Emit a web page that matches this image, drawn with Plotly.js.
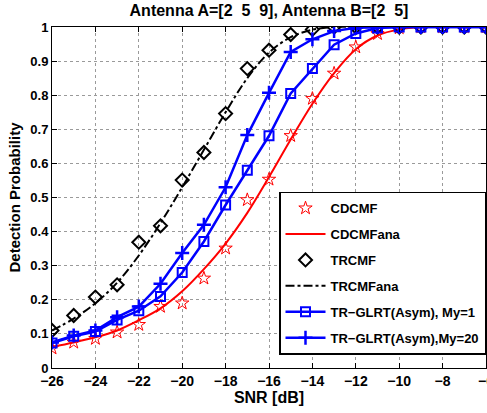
<!DOCTYPE html>
<html><head><meta charset="utf-8">
<script src="https://cdn.plot.ly/plotly-3.0.1.min.js"></script>
<style>html,body{margin:0;padding:0;background:#fff;}#plot{width:487px;height:413px;}</style>
</head><body><div id="plot"></div>
<script>
const snr = [-26,-25,-24,-23,-22,-21,-20,-19,-18,-17,-16,-15,-14,-13,-12,-11,-10,-9,-8,-7,-6];
const cdcmf = [0.058,0.075,0.086,0.105,0.127,0.180,0.190,0.263,0.351,0.493,0.553,0.681,0.790,0.864,0.941,0.980,0.997,1,1,1,1];
const cdcmfAna = [0.062,0.075,0.090,0.110,0.140,0.175,0.225,0.290,0.365,0.455,0.560,0.670,0.775,0.865,0.935,0.975,0.993,1,1,1,1];
const trcmf = [0.110,0.154,0.208,0.244,0.369,0.417,0.551,0.632,0.746,0.878,0.932,0.978,0.993,1,1,1,1,1,1,1,1];
const trcmfAna = [0.110,0.145,0.190,0.250,0.330,0.425,0.530,0.640,0.750,0.850,0.925,0.970,0.992,1,1,1,1,1,1,1,1];
const glrt1 = [0.073,0.093,0.107,0.141,0.168,0.210,0.280,0.371,0.478,0.580,0.681,0.805,0.878,0.948,0.981,0.997,1,1,1,1,1];
const glrt20 = [0.075,0.095,0.110,0.149,0.180,0.247,0.337,0.420,0.530,0.683,0.807,0.927,0.964,0.988,0.998,1,1,1,1,1,1];
const names = ['CDCMF','CDCMFana','TRCMF','TRCMFana','TR\u2212GLRT(Asym), My=1','TR\u2212GLRT(Asym),My=20'];
const titleText = 'Antenna A=[2\u00a0\u00a05\u00a0\u00a09], Antenna B=[2\u00a0\u00a05]';

const traces = [
  {x:snr,y:cdcmfAna,name:names[1],mode:'lines',line:{color:'#ff0000',width:2,shape:'spline'},legendgroup:'b',legendrank:2},
  {x:snr,y:trcmfAna,name:names[3],mode:'lines',line:{color:'#000000',width:2,dash:'dashdot',shape:'spline'},legendgroup:'d',legendrank:4},
  {x:snr,y:cdcmf,name:names[0],mode:'markers',marker:{symbol:'star-open',size:10,color:'#ff0000',line:{width:1}},legendgroup:'a',legendrank:1},
  {x:snr,y:trcmf,name:names[2],mode:'markers',marker:{symbol:'diamond-open',size:10,color:'#000000',line:{width:2}},legendgroup:'c',legendrank:3},
  {x:snr,y:glrt1,name:names[4],mode:'lines+markers',line:{color:'#0000ff',width:2.5},marker:{symbol:'square-open',size:9,color:'#0000ff',line:{width:2}},legendgroup:'e',legendrank:5},
  {x:snr,y:glrt20,name:names[5],mode:'lines+markers',line:{color:'#0000ff',width:2.5},marker:{symbol:'cross-thin-open',size:10,color:'#0000ff',line:{width:2.5}},legendgroup:'f',legendrank:6}
];
const FAM = 'Liberation Sans, Arial, sans-serif';
const fnt = {family:FAM,size:13,color:'#000',weight:'bold'};
const xfnt = {family:FAM,size:14,color:'#000',weight:'bold'};
const tfnt = {family:FAM,size:16,color:'#000',weight:'bold'};
const ttfnt = {family:FAM,size:16,color:'#000',weight:'bold'};
const layout = {
  width:487,height:413,
  margin:{l:52,r:1,t:27,b:45},
  paper_bgcolor:'#fff',plot_bgcolor:'#fff',
  font:fnt,
  showlegend:true,
  title:{text:titleText,font:ttfnt,x:0.5,xanchor:'center',xref:'paper',y:0.975,yanchor:'middle'},
  xaxis:{range:[-26,-6],dtick:2,tick0:-26,ticks:'inside',ticklen:5,tickcolor:'#000',mirror:'ticks',showline:true,linecolor:'#000',linewidth:1,
    showgrid:true,gridcolor:'#9a9a9a',griddash:'dot',gridwidth:1,zeroline:false,ticklabeloverflow:'allow',
    title:{text:'SNR [dB]',font:tfnt,standoff:4},tickfont:xfnt},
  yaxis:{range:[0,1],dtick:0.1,ticks:'inside',ticklen:5,tickcolor:'#000',mirror:'ticks',showline:true,linecolor:'#000',linewidth:1,
    showgrid:true,gridcolor:'#9a9a9a',griddash:'dot',gridwidth:1,zeroline:false,
    title:{text:'Detection Probability',font:{family:FAM,size:15,color:'#000',weight:'bold'},standoff:6},tickfont:fnt},
  legend:{x:1,xanchor:'right',y:0.039,yanchor:'bottom',bgcolor:'#fff',bordercolor:'#000',borderwidth:1.5,
    font:fnt,traceorder:'grouped',tracegroupgap:6,itemwidth:40}
};
Plotly.newPlot('plot',traces,layout,{staticPlot:true,displayModeBar:false});
</script></body></html>
